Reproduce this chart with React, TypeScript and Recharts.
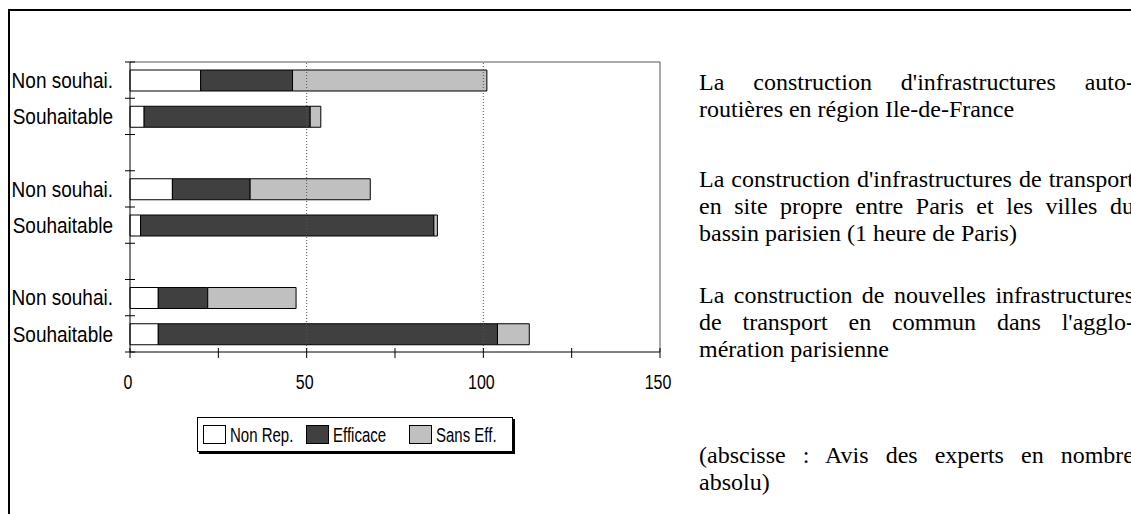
import React from 'react';
import { BarChart, Bar, XAxis, YAxis, ReferenceLine, Legend } from 'recharts';

// rows top to bottom, blank rows separate the three questions
const rowKeys = ['r0', 'r1', 'r2', 'r3', 'r4', 'r5', 'r6', 'r7'];
const rowLabels = ['Non souhai.', 'Souhaitable', '', 'Non souhai.', 'Souhaitable', '', 'Non souhai.', 'Souhaitable'];

const nonRep = [20, 4, null, 12, 3, null, 8, 8];
const efficace = [26, 47, null, 22, 83, null, 14, 96];
const sansEff = [55, 3, null, 34, 1, null, 25, 9];

const xTicks = [0, 25, 50, 75, 100, 125, 150];
const gridValues = [50, 100];

const seriesNames = ['Non Rep.', 'Efficace', 'Sans Eff.'];
const seriesKeys = ['nonRep', 'efficace', 'sansEff'];
const seriesColors = ['#ffffff', '#404040', '#c0c0c0'];

const textBlocks = [
  ['La construction d\'infrastructures auto-', 'routières en région Ile-de-France'],
  ['La construction d\'infrastructures de transport', 'en site propre entre Paris et les villes du', 'bassin parisien (1 heure de Paris)'],
  ['La construction de nouvelles infrastructures', 'de transport en commun dans l\'agglo-', 'mération parisienne'],
  ['(abscisse : Avis des experts en nombre', 'absolu)'],
];
const textTops = [69, 166, 282, 442];

const chartData = rowKeys.map((key, i) => ({
  key,
  nonRep: nonRep[i],
  efficace: efficace[i],
  sansEff: sansEff[i],
}));

const sansFont = '"Liberation Sans", Arial, sans-serif';
const serifFont = '"Liberation Serif", "Times New Roman", serif';

function RowTick(props: any) {
  const { x, y, payload, index } = props;
  const half = payload && payload.offset ? payload.offset : 18;
  return (
    <g>
      <line x1={x - 5} x2={x + 5} y1={y - half} y2={y - half} stroke="#000" />
      {index === rowKeys.length - 1 && <line x1={x - 5} x2={x + 5} y1={y + half} y2={y + half} stroke="#000" />}
      <text
        transform={`translate(${x - 17},${y}) scale(1,1.15)`}
        dy="0.36em"
        textAnchor="end"
        fontFamily={sansFont}
        fontSize={19}
        fill="#000"
      >
        {rowLabels[index]}
      </text>
    </g>
  );
}

function ValueTick(props: any) {
  const { x, y, payload } = props;
  return (
    <g>
      <line x1={x} x2={x} y1={y - 4} y2={y + 6} stroke="#000" />
      {payload.value % 50 === 0 && (
        <text
          transform={`translate(${x - 2},${y + 30}) scale(1,1.3)`}
          dy="0.36em"
          textAnchor="middle"
          fontFamily={sansFont}
          fontSize={16}
          fill="#000"
        >
          {payload.value}
        </text>
      )}
    </g>
  );
}

function LegendBox() {
  return (
    <div
      style={{
        border: '1px solid #000',
        boxShadow: '2px 2px 0 #000',
        background: '#fff',
        display: 'flex',
        alignItems: 'center',
        height: 35,
        paddingLeft: 5,
        boxSizing: 'border-box',
        fontFamily: sansFont,
        fontSize: 15,
        color: '#000',
      }}
    >
      {seriesNames.map((name, i) => (
        <div key={name} style={{ display: 'flex', alignItems: 'center', width: i < 2 ? 103 : 'auto' }}>
          <span
            style={{
              display: 'inline-block',
              width: 21,
              height: 17,
              background: seriesColors[i],
              border: '1px solid #000',
              marginRight: 4,
            }}
          />
          <span style={{ display: 'inline-block', transform: 'scaleY(1.3)' }}>{name}</span>
        </div>
      ))}
    </div>
  );
}

export default function App() {
  return (
    <div style={{ position: 'absolute', left: 0, top: 0, width: 1131, height: 514, overflow: 'hidden', background: '#fff' }}>
      <div
        style={{
          position: 'absolute',
          left: 8,
          top: 9,
          width: 1200,
          height: 600,
          borderLeft: '2px solid #000',
          borderTop: '2px solid #000',
        }}
      />
      <div style={{ position: 'absolute', left: 0, top: 0 }}>
        <BarChart
          width={700}
          height={470}
          data={chartData}
          layout="vertical"
          margin={{ top: 61, right: 40, bottom: 88, left: 0 }}
          barSize={21}
        >
          <XAxis
            type="number"
            domain={[0, 150]}
            ticks={xTicks}
            interval={0}
            height={30}
            tickSize={0}
            tickMargin={0}
            tickLine={false}
            axisLine={{ stroke: '#000' }}
            tick={<ValueTick />}
          />
          <XAxis
            xAxisId="top"
            orientation="top"
            type="number"
            domain={[0, 150]}
            height={1}
            tick={false}
            tickLine={false}
            axisLine={{ stroke: '#555' }}
          />
          <YAxis
            type="category"
            dataKey="key"
            width={130}
            interval={0}
            tickSize={0}
            tickMargin={0}
            tickLine={false}
            axisLine={{ stroke: '#000' }}
            tick={<RowTick />}
          />
          {gridValues.map((v) => (
            <ReferenceLine key={v} x={v} stroke="#555" strokeDasharray="1 2" />
          ))}
          <ReferenceLine x={150} stroke="#555" />
          <Legend
            layout="vertical"
            align="center"
            verticalAlign="middle"
            content={<LegendBox />}
            wrapperStyle={{ left: 197, top: 417, width: 316 }}
          />
          {seriesKeys.map((key, i) => (
            <Bar
              key={key}
              dataKey={key}
              name={seriesNames[i]}
              stackId="a"
              fill={seriesColors[i]}
              stroke="#000"
              strokeWidth={1}
              isAnimationActive={false}
            />
          ))}
        </BarChart>
      </div>
      {textBlocks.map((lines, b) => (
        <div
          key={b}
          style={{
            position: 'absolute',
            left: 699,
            top: textTops[b],
            width: 435,
            fontFamily: serifFont,
            fontSize: 24,
            lineHeight: '27px',
            color: '#000',
          }}
        >
          {lines.map((line, i) => (
            <div key={i} style={{ textAlign: 'justify', textAlignLast: i < lines.length - 1 ? 'justify' : 'left', whiteSpace: 'nowrap' }}>
              {line}
            </div>
          ))}
        </div>
      ))}
    </div>
  );
}
